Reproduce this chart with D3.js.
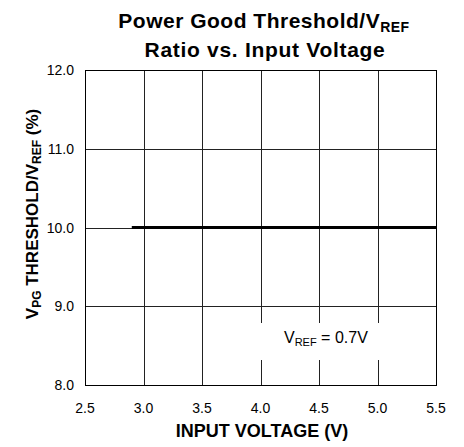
<!DOCTYPE html>
<html>
<head>
<meta charset="utf-8">
<script src="https://cdn.jsdelivr.net/npm/d3@7"></script>
<style>
  body { margin: 0; background: #fff; }
  text { font-family: "Liberation Sans", Arial, sans-serif; fill: #000; }
</style>
</head>
<body>
<div id="chart"></div>
<script>
// data
const inputVoltage = [2.9, 3.0, 3.5, 4.0, 4.5, 5.0, 5.5];
const pgRatio = [10.0, 10.0, 10.0, 10.0, 10.0, 10.0, 10.0];
const xTicks = [2.5, 3.0, 3.5, 4.0, 4.5, 5.0, 5.5];
const yTicks = [8, 9, 10, 11, 12];

const width = 464, height = 447;
const margin = {top: 70, right: 28, bottom: 62, left: 85};

const x = d3.scaleLinear().domain([2.5, 5.5]).range([margin.left, width - margin.right]);
const y = d3.scaleLinear().domain([8, 12]).range([height - margin.bottom, margin.top]);

const svg = d3.select('#chart').append('svg')
  .attr('width', width)
  .attr('height', height);

// grid
const grid = svg.append('g').attr('stroke', '#222').attr('stroke-width', 1);
grid.selectAll('.vx').data(xTicks.slice(1, -1)).enter().append('line')
  .attr('x1', d => Math.round(x(d)) + 0.5).attr('x2', d => Math.round(x(d)) + 0.5)
  .attr('y1', y(12)).attr('y2', y(8));
grid.selectAll('.hy').data(yTicks.slice(1, -1)).enter().append('line')
  .attr('x1', x(2.5)).attr('x2', x(5.5))
  .attr('y1', d => Math.round(y(d)) + 0.5).attr('y2', d => Math.round(y(d)) + 0.5);

// frame
svg.append('rect')
  .attr('x', x(2.5) + 0.5).attr('y', y(12) + 0.5)
  .attr('width', x(5.5) - x(2.5)).attr('height', y(8) - y(12))
  .attr('fill', 'none').attr('stroke', '#000');

// data line
const line = d3.line().x((d, i) => x(inputVoltage[i])).y(d => y(d));
svg.append('path')
  .datum(pgRatio)
  .attr('d', line)
  .attr('fill', 'none')
  .attr('stroke', '#000')
  .attr('stroke-width', 3);

// annotation box
svg.append('rect')
  .attr('x', x(4.0) - 2).attr('y', 323)
  .attr('width', 130).attr('height', 37)
  .attr('fill', '#fff');
const ann = svg.append('text')
  .attr('x', 284).attr('y', 343)
  .attr('font-size', 16);
ann.append('tspan').text('V');
ann.append('tspan').attr('font-size', 11).attr('dy', 3).text('REF');
ann.append('tspan').attr('dy', -3).text(' = 0.7V');

// tick labels
svg.append('g').selectAll('text').data(xTicks).enter().append('text')
  .attr('x', d => x(d)).attr('y', 413)
  .attr('text-anchor', 'middle').attr('font-size', 14)
  .text(d => d.toFixed(1));
svg.append('g').selectAll('text').data(yTicks).enter().append('text')
  .attr('x', 74).attr('y', d => y(d) + 5)
  .attr('text-anchor', 'end').attr('font-size', 14)
  .text(d => d.toFixed(1));

// titles
const title = svg.append('text')
  .attr('x', 264).attr('y', 28)
  .attr('text-anchor', 'middle').attr('font-size', 21).attr('font-weight', 'bold')
  .attr('letter-spacing', 0.5);
title.append('tspan').text('Power Good Threshold/V');
title.append('tspan').attr('font-size', 14).attr('dy', 4).text('REF');
svg.append('text')
  .attr('x', 265).attr('y', 57)
  .attr('text-anchor', 'middle').attr('font-size', 21).attr('font-weight', 'bold')
  .attr('letter-spacing', 0.7)
  .text('Ratio vs. Input Voltage');

svg.append('text')
  .attr('x', 262).attr('y', 437)
  .attr('text-anchor', 'middle').attr('font-size', 18).attr('font-weight', 'bold')
  .text('INPUT VOLTAGE (V)');

const yl = svg.append('text')
  .attr('transform', 'translate(38,214) rotate(-90)')
  .attr('text-anchor', 'middle').attr('font-size', 17).attr('font-weight', 'bold');
yl.append('tspan').text('V');
yl.append('tspan').attr('font-size', 12).attr('dy', 3).text('PG');
yl.append('tspan').attr('dy', -3).text(' THRESHOLD/V');
yl.append('tspan').attr('font-size', 12).attr('dy', 3).text('REF');
yl.append('tspan').attr('dy', -3).text(' (%)');
</script>
</body>
</html>
